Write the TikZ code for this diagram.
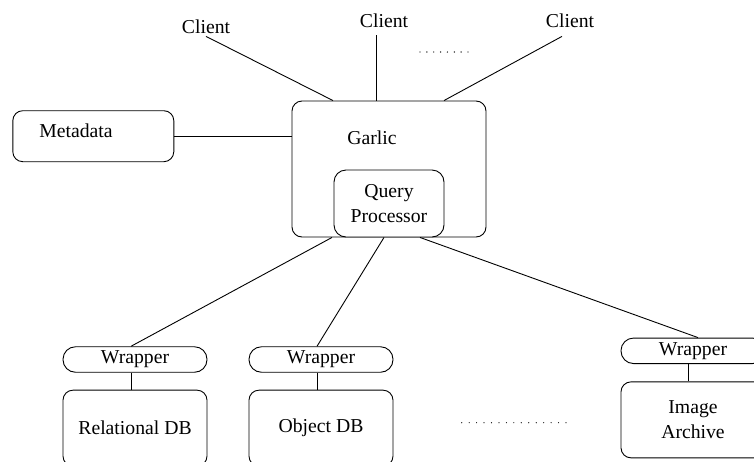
\documentclass[tikz,border=0pt]{standalone}
\usepackage{fontspec}
\setmainfont{Liberation Serif}
\usetikzlibrary{positioning}

\begin{document}
\begin{tikzpicture}[x=1pt,y=-1pt,line width=0.9pt,
    font=\fontsize{19.7}{25}\selectfont,
    box/.style={draw,rounded corners=10pt,fill=white,inner sep=0pt},
    wrap/.style={draw,rounded corners=12.5pt,minimum width=144pt,
      minimum height=25.5pt,inner sep=0pt,fill=white},
    dbbox/.style={box,minimum width=144pt,minimum height=76pt,align=center},
    lbl/.style={inner sep=0pt}]
    \useasboundingbox (0,0) rectangle (754,461);
    \clip (0,0) rectangle (754,461);
    % mediator
    \node[box,minimum width=194pt,minimum height=136pt] (garlic) at (389,169) {};
    \node[lbl] (garlictxt) at (372,138) {Garlic};
    \node[box,rounded corners=12pt,minimum width=110pt,minimum height=67pt,
      align=center] (qp) at (389,203.5) {Query\\Processor};
    \node[box,minimum width=161pt,minimum height=51pt] (meta) at (93.3,136.2) {};
    \node[lbl] (metatxt) at (76,130.7) {Metadata};
    % clients
    \node[lbl] (cl1) at (206,27) {Client};
    \node[lbl] (cl2) at (384,21) {Client};
    \node[lbl] (cl3) at (570,21) {Client};
    % sources
    \node[wrap] (w1) at (135,359.5) {Wrapper};
    \node[wrap] (w2) at (321,359.5) {Wrapper};
    \node[wrap] (w3) at (693,350.8) {Wrapper};
    \node[dbbox] (db1) [below=17pt of w1]   {Relational DB};
    \node[dbbox] (db2) [below=17pt of w2]   {Object DB};
    \node[dbbox] (db3) [below=17.4pt of w3] {Image\\Archive};
    % client edges
    \draw ([yshift=-2pt]cl1.south) -- ([xshift=-56pt]garlic.north);
    \draw ([xshift=-8pt,yshift=-7pt]cl2.south) -- ([xshift=-13pt]garlic.north);
    \draw ([xshift=-8pt,yshift=-8pt]cl3.south) -- ([xshift=55pt]garlic.north);
    \draw (meta.east) -- (meta.east -| garlic.west);
    % source edges
    \draw ([xshift=-57pt]qp.south) -- ([xshift=-4pt]w1.north);
    \draw ([xshift=-5pt]qp.south)  -- ([xshift=-4pt]w2.north);
    \draw ([xshift=31pt]qp.south)  -- ([xshift=5pt]w3.north);
    \draw ([xshift=-4pt]w1.south) -- ([xshift=-4pt]db1.north);
    \draw ([xshift=-4pt]w2.south) -- ([xshift=-4pt]db2.north);
    \draw ([xshift=-5pt]w3.south) -- ([xshift=-5pt]db3.north);
    % ellipses
    \foreach \i in {0,...,7}
      \fill (420+\i*6.86,52) circle (0.7pt);
    \foreach \i in {0,...,14}
      \fill (461.7+\i*7.45,422.7) circle (0.6pt);
\end{tikzpicture}
\end{document}
